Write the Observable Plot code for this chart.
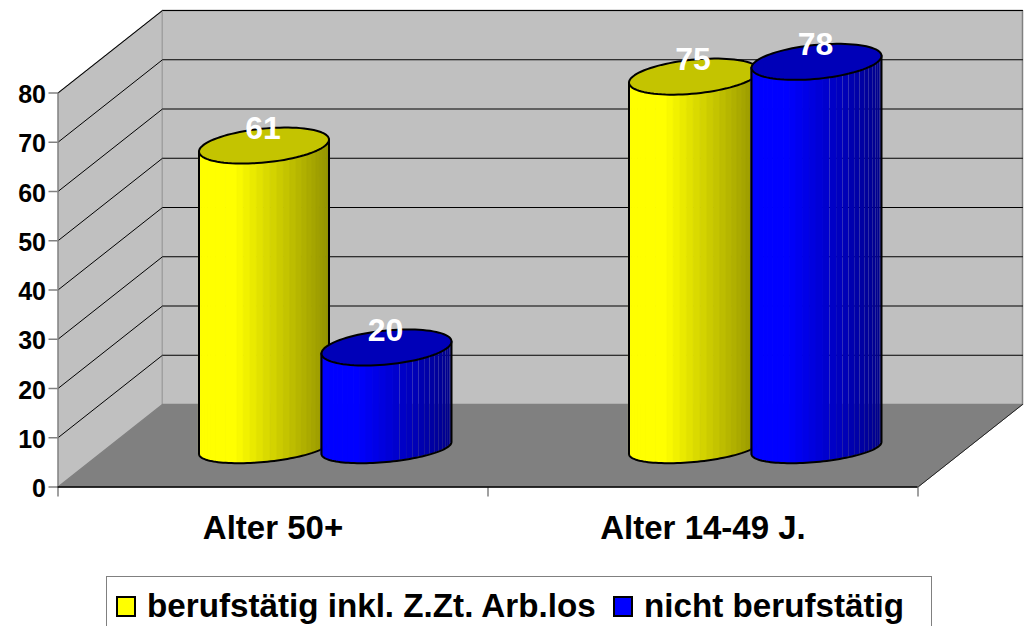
<!DOCTYPE html>
<html>
<head>
<meta charset="utf-8">
<script src="https://cdn.jsdelivr.net/npm/d3@7"></script>
<script src="https://cdn.jsdelivr.net/npm/@observablehq/plot@0.6"></script>
<style>
html,body{margin:0;padding:0;background:#fff;overflow:hidden}
svg{display:block}
#legend{position:relative;margin-left:106px;width:824px;height:49px;border:solid #808080;border-width:1.5px 1.5px 0 1.5px;font:bold 33.2px "Liberation Sans",Arial,sans-serif;color:#000;white-space:nowrap}
#legend i{position:absolute;top:19px;width:16px;height:17px;border:2px solid #000}
#legend span{position:absolute;top:11px;line-height:36px}
</style>
</head>
<body>
<div id="chart"></div>
<div id="legend"></div>
<script>
const categories = ["Alter 50+", "Alter 14-49 J."];
const seriesNames = ["berufstätig inkl. Z.Zt. Arb.los", "nicht berufstätig"];
const seriesColors = ["#ffff00", "#0000ff"];
const topColors = ["#c4c400", "#0000b8"];
const employed = [61, 75];
const notEmployed = [20, 78];
const yTicks = [0, 10, 20, 30, 40, 50, 60, 70, 80];

const W = 1024, H = 576, X0 = 57.5, X1 = 917.5, Y0 = 486.5, Y80 = 92.5;
const pxX = (X1 - X0) / 2, pxY = (Y0 - Y80) / 80;      // pixels per scale unit
const depthX = 104.5 / pxX, depthY = 82.5 / pxY;       // box depth in scale units
const barW = 65 / pxX, step = 61.25 / pxX;             // half width, half step
const topB = 17 / pxY, baseB = 14 / pxY, skew = 6 / pxY;
const baseDrop = 2 / pxY, barDepth = 41 / pxY, barShift = 0;

const bars = [];
categories.forEach((c, i) => {
  [employed[i], notEmployed[i]].forEach((v, s) => {
    bars.push({
      category: c, series: s, value: v,
      cx: i + 0.5 + depthX / 2 + barShift + (s === 0 ? -step : step),
      base: barDepth
    });
  });
});

const N = 30;
function shade(s, frac) {
  const k = frac < 0.28 ? 1 : 1 - (frac - 0.28) / 0.72 * (s === 0 ? 0.42 : 0.46);
  const v = Math.round(255 * k);
  return s === 0 ? `rgb(${v},${v},0)` : `rgb(0,0,${v})`;
}
function ring(b, n = 90) {
  const top = b.base + b.value;
  return d3.range(n + 1).map(j => {
    const t = j / n * 2 * Math.PI;
    return {x: b.cx + barW * Math.cos(t), y: top + topB * Math.sin(t) + skew * Math.cos(t)};
  });
}
function front(b, n = 60) {
  return d3.range(n + 1).map(j => {
    const t = Math.PI + j / n * Math.PI;
    return {x: b.cx + barW * Math.cos(t), y: b.base - baseDrop + baseB * Math.sin(t) + skew * Math.cos(t)};
  });
}
function strips(b) {
  const out = [];
  for (let j = 0; j < N; j++) {
    const a0 = Math.PI + j / N * Math.PI, a1 = Math.PI + (j + 1) / N * Math.PI;
    const frac = (Math.cos(a0) + Math.cos(a1) + 2) / 4;
    const fill = shade(b.series, frac);
    const seal = b.series === 0 || frac < 0.55;
    [a0, a1].forEach(t => {
      out.push({
        id: j, fill, seal,
        x: b.cx + barW * Math.cos(t),
        y1: b.base - baseDrop + baseB * Math.sin(t) + skew * Math.cos(t),
        y2: b.base + b.value + topB * Math.sin(t) + skew * Math.cos(t)
      });
    });
  }
  return out;
}
function outline(b) {
  const leftTop = {x: b.cx - barW, y: b.base + b.value - skew};
  const rightTop = {x: b.cx + barW, y: b.base + b.value + skew};
  return [leftTop, ...front(b), rightTop];
}

const leftWall = [{x: 0, y: 0}, {x: depthX, y: depthY}, {x: depthX, y: 80 + depthY}, {x: 0, y: 80}];
const backWall = [{x: depthX, y: depthY}, {x: 2 + depthX, y: depthY}, {x: 2 + depthX, y: 80 + depthY}, {x: depthX, y: 80 + depthY}];
const floor = [{x: 0, y: 0}, {x: 2, y: 0}, {x: 2 + depthX, y: depthY}, {x: depthX, y: depthY}];
const gridTicks = yTicks.slice(1);
const grid = gridTicks.flatMap(v => [
  {v, x: 0, y: v}, {v, x: depthX, y: v + depthY}, {v, x: 2 + depthX, y: v + depthY}
]);

const barMarks = bars.flatMap(b => {
  const s = strips(b);
  return [
    Plot.area(s, {x1: "x", y1: "y1", y2: "y2", z: "id", fill: "fill", curve: "linear"}),
    Plot.area(s.filter(d => d.seal), {x1: "x", y1: "y1", y2: "y2", z: "id", fill: "fill", stroke: "fill", strokeWidth: 0.5, curve: "linear"}),
    Plot.line(outline(b), {x: "x", y: "y", stroke: "#000", strokeWidth: 2}),
    Plot.line(ring(b), {x: "x", y: "y", fill: topColors[b.series], stroke: "#000", strokeWidth: 2})
  ];
});

const plot = Plot.plot({
  width: W, height: H,
  marginLeft: X0, marginRight: W - X1, marginTop: Y80, marginBottom: H - Y0,
  x: {domain: [0, 2], axis: null},
  y: {domain: [0, 80], axis: null},
  color: {type: "identity"},
  style: {background: "#fff", overflow: "visible"},
  marks: [
    Plot.line(leftWall, {x: "x", y: "y", fill: "#c0c0c0", stroke: "#808080", strokeWidth: 1.5}),
    Plot.line(backWall, {x: "x", y: "y", fill: "#c0c0c0", stroke: "#808080", strokeWidth: 1.5}),
    Plot.line(floor, {x: "x", y: "y", fill: "#808080", stroke: "#808080", strokeWidth: 1}),
    Plot.line(grid, {x: "x", y: "y", z: "v", stroke: "#000", strokeWidth: 1}),
    Plot.line([{x: 2, y: 0}, {x: 2 + depthX, y: depthY}], {x: "x", y: "y", stroke: "#222", strokeWidth: 1}),
    Plot.axisY({ticks: yTicks, tickSize: 9, tickFormat: () => "", stroke: "#808080", strokeWidth: 1.5, label: null}),
    Plot.axisY({ticks: yTicks, tickSize: 0, tickPadding: 12, dy: 2, fill: "#000", fontSize: 25, fontWeight: "bold", fontFamily: "Liberation Sans", label: null}),
    Plot.ruleX([0], {y1: 0, y2: 80, stroke: "#808080", strokeWidth: 1.5}),
    Plot.axisX({ticks: [0, 1, 2], tickSize: 10, tickFormat: () => "", stroke: "#808080", strokeWidth: 1.5, label: null}),
    Plot.ruleY([0], {stroke: "#000", strokeWidth: 1.5}),
    Plot.axisX({ticks: [0.5, 1.5], tickSize: 0, tickPadding: 29, tickFormat: d => categories[Math.floor(d)], fill: "#000", fontSize: 33, fontWeight: "bold", fontFamily: "Liberation Sans", label: null}),
    ...barMarks,
    Plot.text(bars, {x: "cx", y: d => d.base + d.value, text: d => String(d.value), dy: -17, dx: -1, fill: "#fff", fontSize: 32, fontWeight: "bold", fontFamily: "Liberation Sans"})
  ]
});
document.getElementById("chart").append(plot);

const legend = document.getElementById("legend");
const swatchX = [9, 506], textX = [40, 537];
seriesNames.forEach((name, i) => {
  const sw = document.createElement("i");
  sw.style.left = swatchX[i] + "px";
  sw.style.background = seriesColors[i];
  const tx = document.createElement("span");
  tx.style.left = textX[i] + "px";
  tx.textContent = name;
  legend.append(sw, tx);
});
</script>
</body>
</html>
